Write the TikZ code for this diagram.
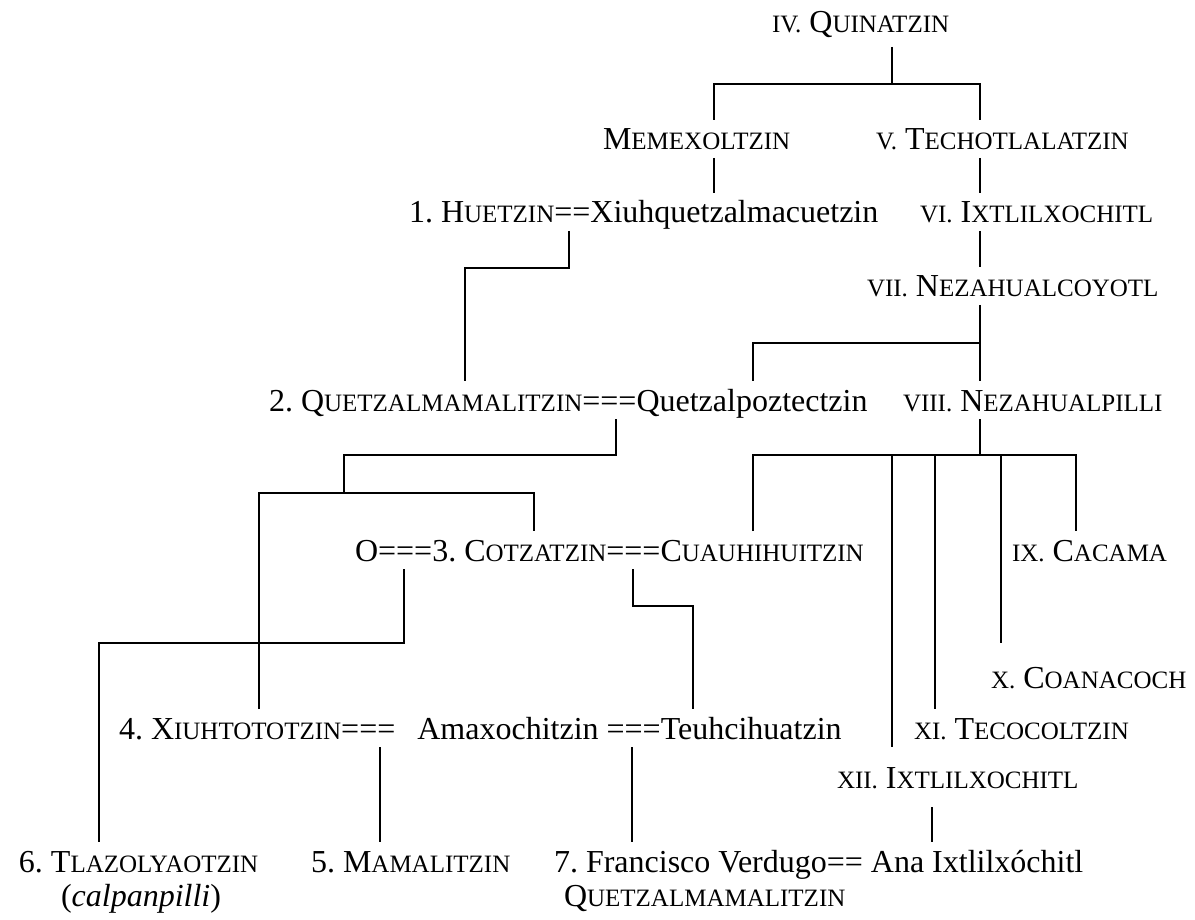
\documentclass[tikz,border=0pt]{standalone}
\usepackage{fontspec}
\setmainfont{Liberation Serif}
\usetikzlibrary{calc}
\frenchspacing
\newcommand\SC[1]{{\fontsize{25pt}{30pt}\selectfont #1}}
\begin{document}
\begin{tikzpicture}[x=1pt,y=-1pt,
  nm/.style={anchor=base west, inner sep=0pt, outer sep=0pt, text height=30pt, text depth=8pt, font=\fontsize{32pt}{38pt}\selectfont\frenchspacing},
  ln/.style={line width=1.5pt}]
\useasboundingbox (0,0) rectangle (1195,920);
% people
\node[nm] (quin) at (772,33) {\SC{IV.} Q\SC{UINATZIN}};
\node[nm] (memex) at (603,150) {M\SC{EMEXOLTZIN}};
\node[nm] (tech) at (876,150) {\SC{V.} T\SC{ECHOTLALATZIN}};
\node[nm] (hue) at (409,223) {1. H\SC{UETZIN}==Xiuhquetzalmacuetzin};
\node[nm] (ixt) at (920,223) {\SC{VI.} I\SC{XTLILXOCHITL}};
\node[nm] (neza) at (867,297) {\SC{VII.} N\SC{EZAHUALCOYOTL}};
\node[nm] (quet) at (269,411) {2. Q\SC{UETZALMAMALITZIN}===Quetzalpoztectzin};
\node[nm] (pilli) at (903,411) {\SC{VIII.} N\SC{EZAHUALPILLI}};
\node[nm] (cot) at (355,561) {O===3. C\SC{OTZATZIN}===C\SC{UAUHIHUITZIN}};
\node[nm] (cac) at (1012,561) {\SC{IX.} C\SC{ACAMA}};
\node[nm] (coa) at (991,688) {\SC{X.} C\SC{OANACOCH}};
\node[nm] (xiu) at (119,739) {4. X\SC{IUHTOTOTZIN}===\hspace{22pt}Amaxochitzin ===Teuhcihuatzin};
\node[nm] (teco) at (914,739) {\SC{XI.} T\SC{ECOCOLTZIN}};
\node[nm] (ixt2) at (837,788) {\SC{XII.} I\SC{XTLILXOCHITL}};
\node[nm] (tla) at (19,872) {6. T\SC{LAZOLYAOTZIN}};
\node[nm] (calp) at (61,906) {(\textit{calpanpilli})};
\node[nm] (mam) at (311,872) {5. M\SC{AMALITZIN}};
\node[nm] (fra) at (554,872) {7. Francisco Verdugo== Ana Ixtlilxóchitl};
\node[nm] (fra2) at (564,906) {Q\SC{UETZALMAMALITZIN}};
% connectors
\draw[ln] ($(892,0 |- quin.base)+(0,14)$) -- (892,84);
\draw[ln] (714,0 |- memex.north) -- (714,84) -- (980,84) -- (980,0 |- tech.north);
\draw[ln] (714,0 |- memex.south) -- (714,0 |- hue.north);
\draw[ln] (980,0 |- tech.south) -- (980,0 |- ixt.north);
\draw[ln] (980,0 |- ixt.south) -- (980,0 |- neza.north);
\draw[ln] (569,0 |- hue.south) -- (569,268) -- (465,268) -- (465,0 |- quet.north);
\draw[ln] (980,0 |- neza.south) -- (980,0 |- pilli.north);
\draw[ln] (980,343) -- (753,343) -- (753,0 |- quet.north);
\draw[ln] (980,0 |- pilli.south) -- (980,455);
\draw[ln] (753,0 |- cot.north) -- (753,455) -- (1076,455) -- (1076,0 |- cac.north);
\draw[ln] (892,455) -- ($(892,0 |- ixt2.base)+(0,-41)$);
\draw[ln] (935,455) -- (935,0 |- teco.north);
\draw[ln] (1001,455) -- ($(1001,0 |- coa.base)+(0,-45)$);
\draw[ln] (616,0 |- quet.south) -- (616,455) -- (344,455) -- (344,493);
\draw[ln] (259,0 |- xiu.north) -- (259,493) -- (534,493) -- (534,0 |- cot.north);
\draw[ln] (404,0 |- cot.south) -- (404,643) -- (99,643) -- (99,0 |- tla.north);
\draw[ln] (633,0 |- cot.south) -- (633,606) -- (693,606) -- (693,0 |- xiu.north);
\draw[ln] (380,0 |- xiu.south) -- (380,0 |- mam.north);
\draw[ln] (632,0 |- xiu.south) -- (632,0 |- fra.north);
\draw[ln] ($(932,0 |- ixt2.base)+(0,19)$) -- (932,0 |- fra.north);
\end{tikzpicture}
\end{document}
